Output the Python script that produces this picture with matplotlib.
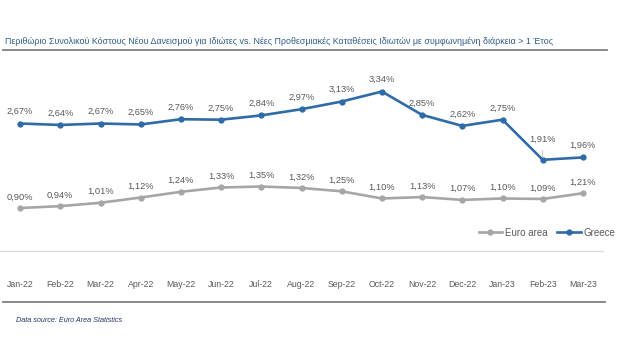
import matplotlib.pyplot as plt
from matplotlib.lines import Line2D

plt.rcParams['font.family'] = ['Liberation Sans', 'DejaVu Sans']

months = ['Jan-22', 'Feb-22', 'Mar-22', 'Apr-22', 'May-22', 'Jun-22', 'Jul-22', 'Aug-22',
          'Sep-22', 'Oct-22', 'Nov-22', 'Dec-22', 'Jan-23', 'Feb-23', 'Mar-23']
greece = [2.67, 2.64, 2.67, 2.65, 2.76, 2.75, 2.84, 2.97, 3.13, 3.34, 2.85, 2.62, 2.75, 1.91, 1.96]
euro_area = [0.90, 0.94, 1.01, 1.12, 1.24, 1.33, 1.35, 1.32, 1.25, 1.10, 1.13, 1.07, 1.10, 1.09, 1.21]

blue = '#2F6BA8'
grey = '#A6A6A6'
lab = '#595959'

fig = plt.figure(figsize=(6.41, 3.61), dpi=100)
ax = fig.add_axes([0.0, 1 - 251 / 361, 603 / 641, 191 / 361])

x = list(range(len(months)))
ax.plot(x, euro_area, color=grey, lw=1.9, marker='o', ms=3.5, label='Euro area')
ax.plot(x, greece, color=blue, lw=1.9, marker='o', ms=3.5, label='Greece')

def pct(v):
    return f'{v:.2f}%'.replace('.', ',')

for i, v in enumerate(euro_area):
    ax.annotate(pct(v), (i, v), xytext=(0, 8), textcoords='offset points',
                ha='center', va='center', fontsize=6.7, color=lab)
for i, v in enumerate(greece):
    dy = 14.5 if i == 13 else 8.5
    ax.annotate(pct(v), (i, v), xytext=(0, dy), textcoords='offset points',
                ha='center', va='center', fontsize=6.7, color=lab)
# leader line for Feb-23
ax.annotate('', (13, 1.91), xytext=(13, 1.91 + 0.26),
            arrowprops=dict(arrowstyle='-', color='#BFBFBF', lw=0.6))

ax.set_xlim(-0.5, 14.5)
ax.set_ylim(0, 4)
ax.set_yticks([])
ax.set_xticks(x)
ax.set_xticklabels(months, fontsize=6.3, color=lab)
ax.tick_params(axis='x', length=0, pad=21)
for s in ['top', 'right', 'left']:
    ax.spines[s].set_visible(False)
ax.spines['bottom'].set_color('#D9D9D9')
ax.spines['bottom'].set_linewidth(0.8)

ax.legend(loc='center right', bbox_to_anchor=(1.035, 0.095), ncol=2, frameon=False,
          fontsize=7, labelcolor=lab, handlelength=2.4, columnspacing=1.0,
          handletextpad=0.3)

fig.text(5 / 641, 1 - 42 / 361,
         'Περιθώριο Συνολικού Κόστους Νέου Δανεισμού για Ιδιώτες vs. Νέες Προθεσμιακές '
         'Καταθέσεις Ιδιωτών με συμφωνημένη διάρκεια > 1 Έτος',
         fontsize=6.4, color='#2E5C8A', va='center', ha='left')
fig.add_artist(Line2D([3 / 641, 607 / 641], [1 - 50 / 361] * 2, color='#808080', lw=1.3))
fig.add_artist(Line2D([3 / 641, 605 / 641], [1 - 302 / 361] * 2, color='#808080', lw=1.3))
fig.text(16 / 641, 1 - 320 / 361, 'Data source: Euro Area Statistics', fontsize=5.2,
         style='italic', color='#1F3864', va='center', ha='left')

fig.savefig('out.png', dpi=100)
